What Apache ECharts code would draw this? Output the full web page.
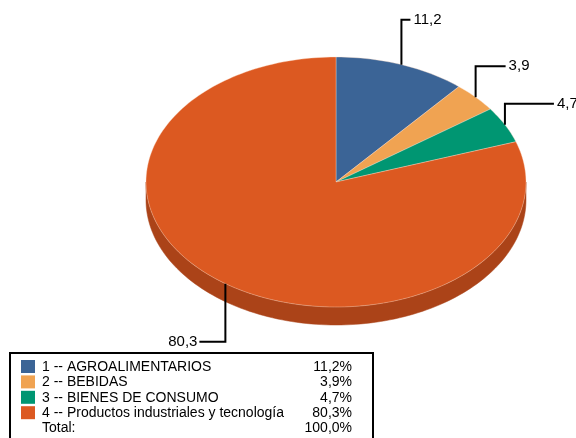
<!DOCTYPE html>
<html>
<head>
<meta charset="utf-8">
<script src="https://cdn.jsdelivr.net/npm/echarts@6/dist/echarts.min.js"></script>
<style>
  html, body { margin: 0; padding: 0; background: #fff; }
  #chart { width: 576px; height: 438px; }
</style>
</head>
<body>
<div id="chart"></div>
<script>
// datos del gráfico
const categories = ['1 -- AGROALIMENTARIOS', '2 -- BEBIDAS', '3 -- BIENES DE CONSUMO', '4 -- Productos industriales y tecnología'];
const values = [11.2, 3.9, 4.7, 80.3];
const valueLabels = ['11,2', '3,9', '4,7', '80,3'];
const pctLabels = ['11,2%', '3,9%', '4,7%', '80,3%'];
const totalLabel = 'Total:';
const totalPct = '100,0%';

// estilo
const topColors = ['#3B6496', '#F0A352', '#009672', '#DC5921'];
const sideColors = ['#2C4B70', '#B57A3D', '#007055', '#AB4318'];
// geometría del pastel (elipse + grosor)
const pie = { cx: 336, cy: 182, rx: 190, ry: 125, depth: 18 };
// guías de etiquetas: [dy vertical, dx horizontal]
const leaders = [[-45, 9], [-31, 30], [-21, 49], [58, -26]];

const total = values.reduce((a, b) => a + b, 0);
const pt = (deg, dy) => {
  const r = deg * Math.PI / 180;
  return [pie.cx + pie.rx * Math.sin(r), pie.cy - pie.ry * Math.cos(r) + (dy || 0)];
};
const arc = (a, b, dy) => {
  const out = [];
  const n = Math.max(2, Math.ceil((b - a) / 1.5));
  for (let k = 0; k <= n; k++) out.push(pt(a + (b - a) * k / n, dy));
  return out;
};

const chart = echarts.init(document.getElementById('chart'), null, { renderer: 'canvas' });

const renderItem = (params, api) => {
  const i = params.dataIndex;
  let start = 0;
  for (let k = 0; k < i; k++) start += values[k];
  const a = start / total * 360;
  const b = (start + values[i]) / total * 360;
  const children = [];
  // lateral (solo mitad frontal 90..270)
  const sa = Math.max(a, 90), sb = Math.min(b, 270);
  if (sb > sa) {
    const topArc = arc(sa, sb, 0);
    const botArc = arc(sa, sb, pie.depth).reverse();
    children.push({
      type: 'polygon', z2: 1,
      shape: { points: topArc.concat(botArc) },
      style: { fill: sideColors[i], stroke: sideColors[i], lineWidth: 0.5 }
    });
  }
  // cara superior
  children.push({
    type: 'polygon', z2: 5,
    shape: { points: [[pie.cx, pie.cy]].concat(arc(a, b, 0)) },
    style: { fill: topColors[i], stroke: 'rgba(255,220,200,0.6)', lineWidth: 0.6 }
  });
  // guía + etiqueta
  const m = pt((a + b) / 2, 0);
  const [ly, lx] = leaders[i];
  const p1 = [m[0], m[1] + ly];
  const p2 = [p1[0] + lx, p1[1]];
  children.push({
    type: 'polyline', z2: 8,
    shape: { points: [m, p1, p2] },
    style: { stroke: '#000', lineWidth: 2, fill: null }
  });
  children.push({
    type: 'text', z2: 8,
    x: p2[0] + (lx > 0 ? 3 : -2), y: p2[1],
    style: {
      text: valueLabels[i], fill: '#000',
      font: '15px "Liberation Sans", Arial, sans-serif',
      align: lx > 0 ? 'left' : 'right', verticalAlign: 'middle'
    }
  });
  return { type: 'group', children };
};

// leyenda en tabla
const legendX = 21, legendY = 360, rowH = 15.4;
const legendFont = '14px "Liberation Sans", Arial, sans-serif';
const legendGraphics = [{
  type: 'rect', left: 9, top: 352,
  shape: { width: 363, height: 100 },
  style: { fill: '#fff', stroke: '#000', lineWidth: 2 }
}];
categories.forEach((c, i) => {
  const y = legendY + i * rowH;
  legendGraphics.push({
    type: 'rect', x: legendX, y: y,
    shape: { width: 14, height: 13 },
    style: { fill: topColors[i] }
  });
  legendGraphics.push({
    type: 'text', x: 42, y: y + 7,
    style: { text: c, font: legendFont, fill: '#000', verticalAlign: 'middle' }
  });
  legendGraphics.push({
    type: 'text', x: 352, y: y + 7,
    style: { text: pctLabels[i], font: legendFont, fill: '#000', align: 'right', verticalAlign: 'middle' }
  });
});
legendGraphics.push({
  type: 'text', x: 42, y: legendY + 4 * rowH + 7,
  style: { text: totalLabel, font: legendFont, fill: '#000', verticalAlign: 'middle' }
});
legendGraphics.push({
  type: 'text', x: 352, y: legendY + 4 * rowH + 7,
  style: { text: totalPct, font: legendFont, fill: '#000', align: 'right', verticalAlign: 'middle' }
});

const option = {
  backgroundColor: '#fff',
  animation: false,
  graphic: legendGraphics,
  series: [{
    type: 'custom',
    coordinateSystem: 'none',
    renderItem,
    data: values
  }]
};
chart.setOption(option);
</script>
</body>
</html>
